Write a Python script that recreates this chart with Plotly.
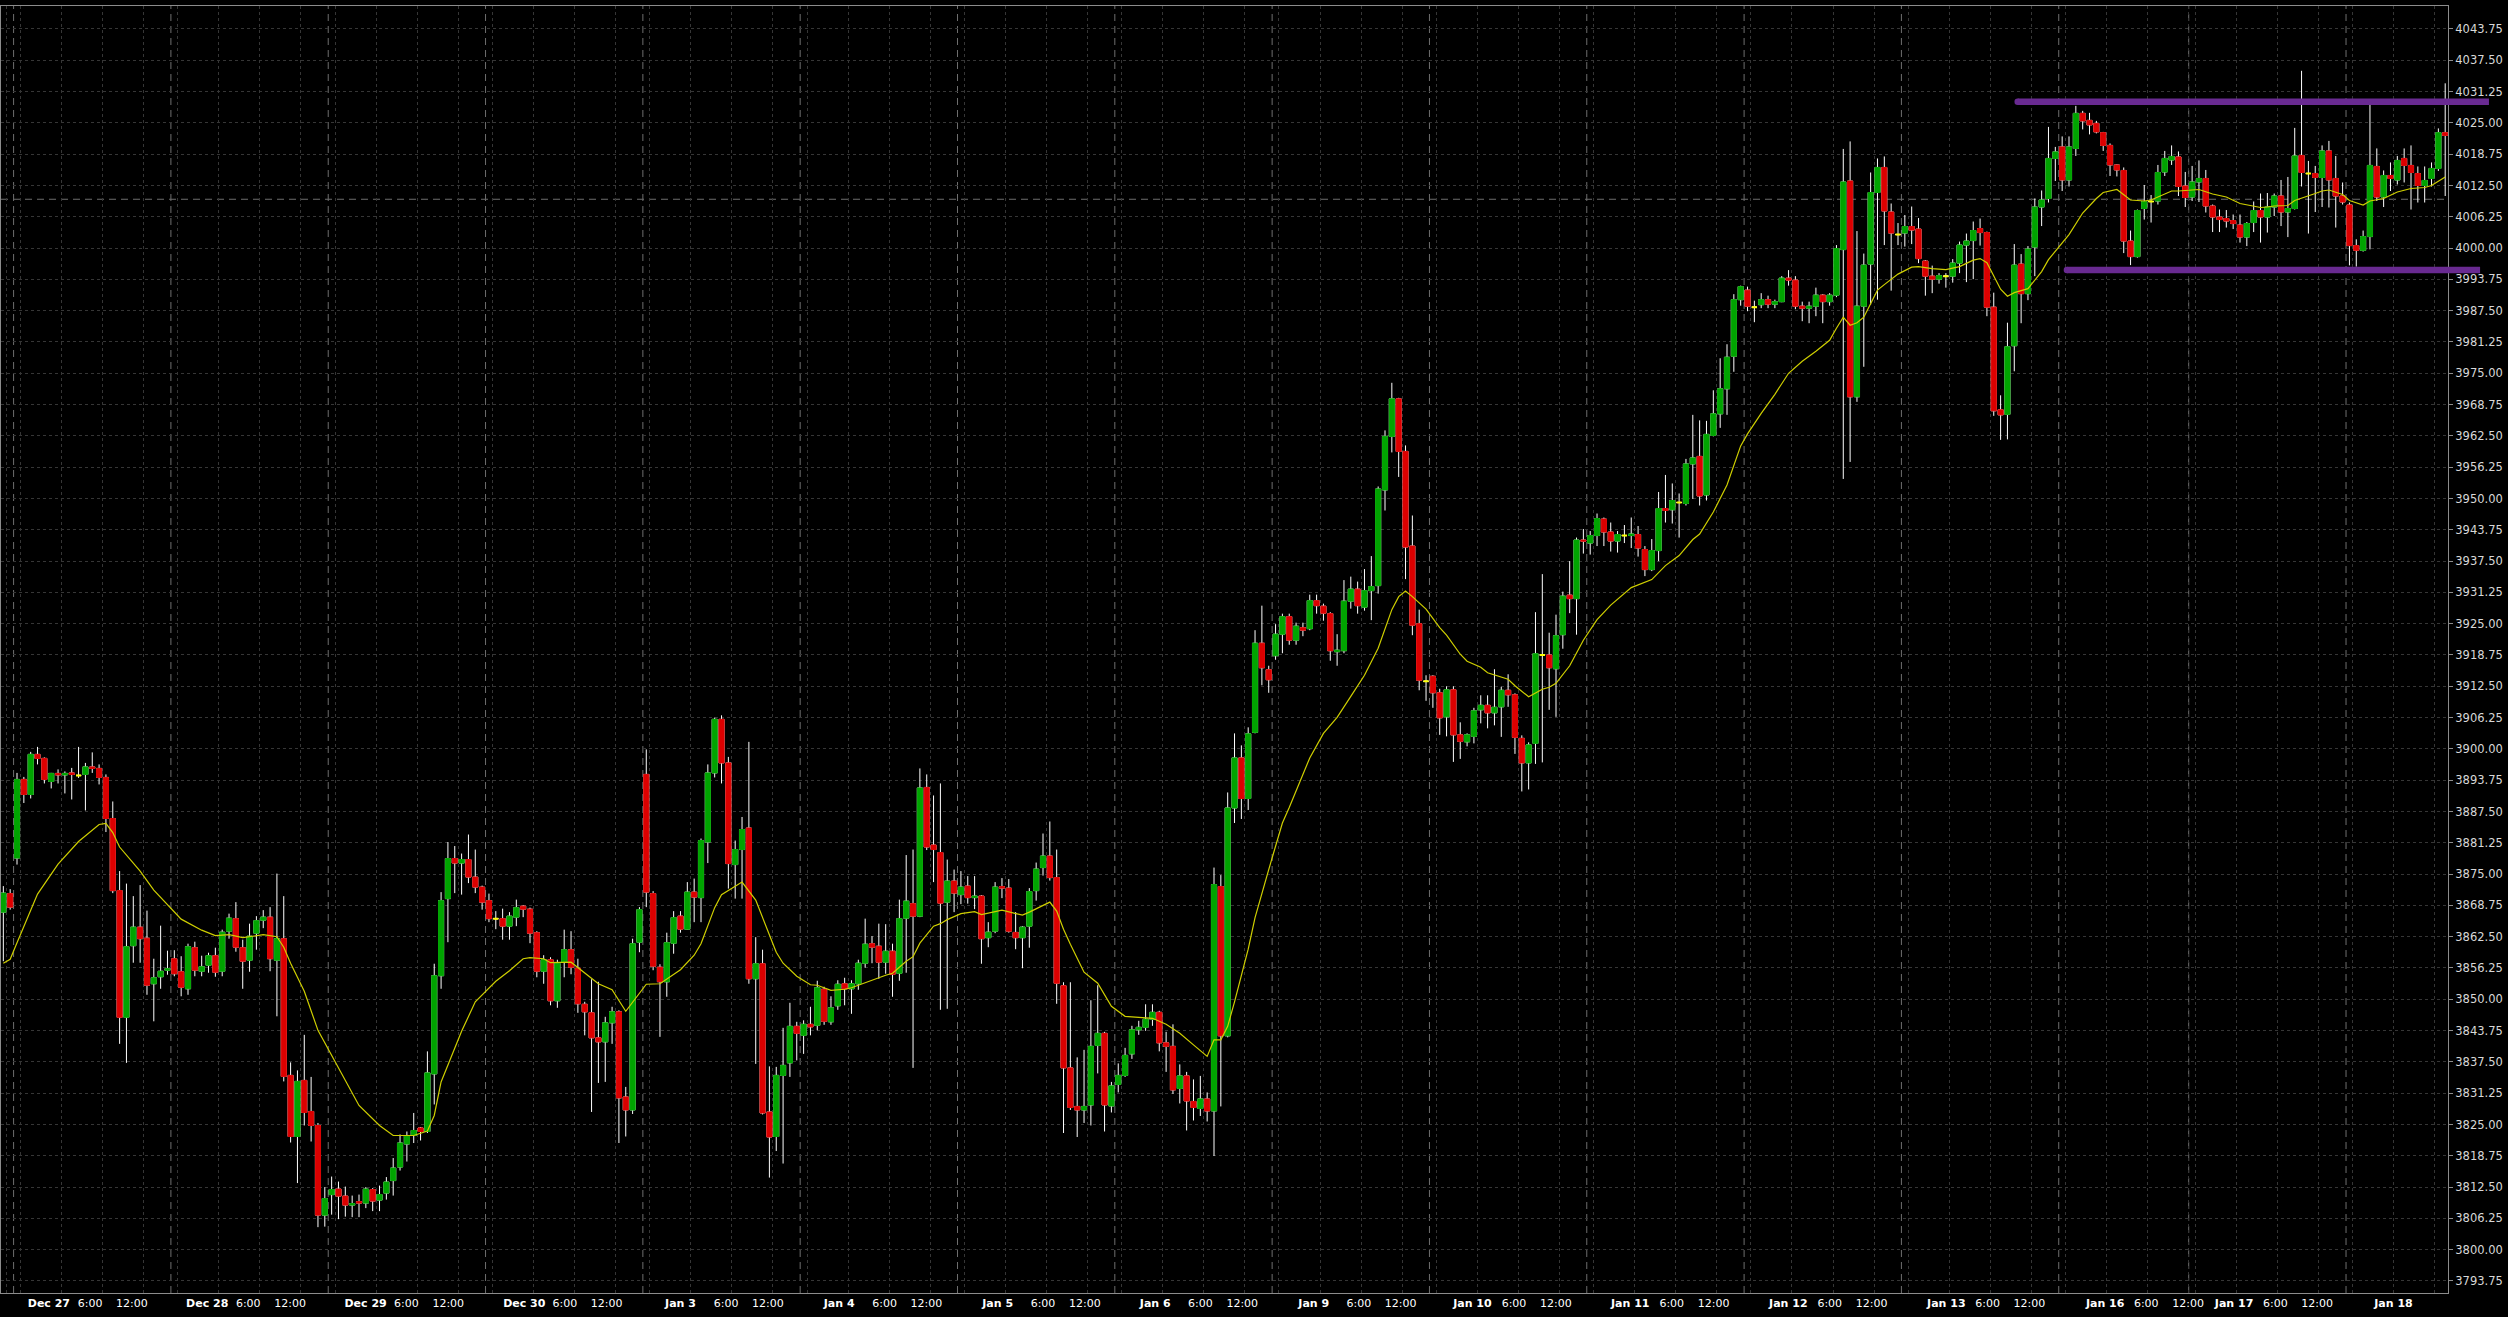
import plotly.graph_objects as go

# ---------------- data (hourly bars, index 0..357) ----------------
OPEN = [3867.4,3871.1,3878.2,3893.9,3890.9,3898.9,3898.1,3893.5,3895.1,3894.8,3895.2,3894.7,3894.9,3896.4,3896.1,3894.3,3886.1,3871.7,3846.4,3860.7,
3864.4,3862.2,3853.1,3854.5,3855.8,3858.1,3855.5,3852.1,3860.3,3855.6,3856.8,3858.7,3855.6,3863.6,3866.1,3860.3,3857.8,3863.2,3865.8,3866.4,
3857.8,3862.1,3834.8,3822.6,3833.8,3827.6,3824.8,3806.9,3811.0,3812.1,3810.7,3808.9,3809.6,3809.3,3812.0,3809.9,3811.3,3813.8,3816.5,3821.1,
3822.8,3824.3,3823.6,3835.1,3854.7,3870.1,3878.1,3877.2,3877.9,3874.4,3872.4,3869.7,3866.1,3866.1,3864.6,3866.4,3868.6,3868.0,3863.3,3855.6,
3857.9,3849.7,3857.4,3859.9,3856.2,3849.0,3847.3,3842.3,3841.5,3845.3,3847.5,3830.5,3827.9,3861.4,3894.9,3871.1,3856.4,3853.5,3861.2,3866.6,
3864.0,3871.4,3870.3,3881.4,3895.2,3905.9,3897.2,3876.9,3879.9,3884.2,3854.1,3857.1,3827.5,3822.6,3834.8,3837.3,3844.6,3842.8,3845.0,3844.8,
3852.0,3845.5,3848.7,3853.1,3852.1,3853.1,3857.2,3861.1,3860.6,3857.4,3859.6,3855.2,3866.2,3869.1,3866.6,3892.3,3880.8,3879.3,3869.4,3873.6,
3870.9,3872.6,3870.3,3870.6,3862.3,3863.6,3872.5,3872.2,3863.35,3862.3,3864.6,3871.7,3876.3,3878.6,3874.3,3852.7,3836.3,3828.6,3827.9,3828.9,
3840.8,3843.2,3828.7,3833.0,3834.8,3839.1,3843.9,3844.4,3846.0,3847.4,3841.3,3840.6,3832.2,3834.7,3829.6,3828.2,3830.1,3827.7,3872.5,3842.7,
3888.2,3898.2,3890.1,3903.3,3921.1,3915.8,3918.6,3922.9,3926.4,3921.7,3924.2,3924.0,3929.6,3928.5,3927.0,3919.4,3919.6,3929.5,3931.9,3928.3,
3931.6,3932.6,3951.7,3962.4,3969.9,3959.4,3940.5,3925.0,3913.5,3914.5,3911.2,3906.4,3911.8,3902.8,3901.4,3902.5,3907.8,3908.7,3907.2,3908.4,
3911.7,3910.8,3902.1,3897.2,3901.1,3918.75,3918.75,3916.0,3922.8,3930.7,3930.0,3941.7,3941.1,3942.6,3945.9,3943.3,3941.5,3942.6,3942.6,3942.8,
3939.8,3935.8,3939.6,3948.0,3947.75,3949.2,3949.0,3956.9,3958.4,3950.7,3962.6,3966.9,3971.9,3978.4,3989.7,3991.6,3988.2,3988.7,3989.7,3988.8,
3989.3,3994.0,3993.6,3988.4,3988.0,3988.4,3990.6,3989.3,3990.6,3999.7,4013.4,3970.3,3988.4,3996.8,4011.1,4016.1,4007.2,4002.7,4003.0,4004.3,
4003.8,3997.4,3994.4,3993.8,3994.4,3994.4,3997.0,4000.6,4001.5,4003.9,4003.1,3988.2,3967.7,3966.8,3980.5,3996.8,3990.9,4000.2,4008.2,4009.9,
4017.9,4020.2,4013.6,4019.9,4026.9,4025.5,4024.9,4023.05,4020.5,4016.6,4015.5,4001.4,3998.3,4007.9,4009.3,4009.4,4015.2,4017.6,4018.2,4012.4,
4010.2,4013.2,4013.9,4008.4,4006.2,4005.9,4005.5,4004.6,4002.2,4005.1,4007.5,4006.2,4008.2,4010.4,4007.2,4007.9,4018.5,4014.9,4014.9,4014.1,
4019.4,4013.9,4010.4,4008.6,4000.5,3999.55,4002.3,4016.3,4010.2,4014.5,4013.6,4017.9,4016.5,4014.9,4012.5,4013.9,4015.9,4023.05]

HIGH = [3872.6,3872.0,3895.2,3894.4,3899.4,3900.4,3898.3,3895.2,3895.9,3895.5,3896.2,3900.4,3897.2,3899.3,3896.9,3894.9,3889.5,3875.6,3873.1,3870.6,
3872.8,3867.7,3858.1,3864.7,3859.7,3859.8,3858.6,3861.1,3861.5,3858.7,3859.3,3860.3,3863.9,3867.1,3869.4,3861.9,3865.1,3866.6,3867.8,3868.4,
3875.1,3870.6,3837.4,3835.8,3842.9,3834.5,3825.3,3812.5,3814.6,3813.6,3812.6,3810.8,3811.0,3812.5,3812.3,3812.8,3814.5,3818.3,3823.0,3823.6,
3827.3,3824.5,3839.6,3857.1,3871.4,3881.4,3880.6,3879.1,3882.9,3879.9,3872.7,3871.1,3867.6,3868.1,3867.4,3869.9,3868.8,3868.3,3863.6,3858.8,
3858.4,3857.9,3863.9,3863.6,3858.1,3849.5,3854.0,3853.5,3846.5,3848.5,3847.8,3832.5,3862.1,3868.4,3899.9,3871.6,3857.0,3863.3,3867.6,3867.6,
3873.4,3874.1,3882.1,3896.9,3906.25,3906.7,3898.4,3881.7,3886.4,3901.4,3862.4,3859.9,3836.6,3836.5,3844.3,3849.3,3845.5,3845.8,3848.5,3853.7,
3852.5,3850.6,3853.8,3854.3,3853.8,3857.9,3866.1,3862.6,3865.1,3865.0,3861.1,3869.9,3878.8,3879.9,3896.1,3894.9,3890.7,3893.1,3877.9,3875.9,
3875.6,3874.6,3874.6,3870.8,3865.4,3873.4,3874.2,3874.0,3867.4,3864.6,3872.2,3877.3,3883.1,3885.5,3879.9,3853.4,3853.4,3838.4,3839.9,3849.8,
3852.8,3843.5,3833.5,3837.2,3840.3,3844.7,3845.7,3849.0,3849.0,3847.7,3843.5,3845.0,3837.0,3835.5,3834.0,3834.7,3831.4,3876.3,3874.8,3891.3,
3903.1,3900.7,3904.3,3923.7,3928.6,3916.6,3924.9,3927.0,3927.0,3925.2,3925.2,3930.8,3930.8,3929.0,3927.3,3922.9,3933.7,3934.4,3933.4,3935.9,
3938.5,3952.4,3963.6,3973.1,3970.1,3960.6,3946.6,3927.8,3914.7,3914.7,3912.0,3912.5,3912.5,3905.3,3903.1,3908.2,3910.7,3910.7,3915.9,3912.4,
3914.9,3911.1,3902.7,3901.3,3927.3,3934.9,3923.2,3926.8,3931.4,3937.5,3942.2,3943.9,3943.5,3947.0,3946.2,3945.2,3943.5,3944.7,3946.2,3944.5,
3940.5,3941.9,3951.3,3954.7,3953.0,3951.0,3957.9,3966.7,3965.6,3965.5,3971.6,3978.0,3980.8,3990.8,3992.5,3992.3,3989.5,3991.0,3990.5,3989.7,
3994.4,3995.6,3994.4,3989.3,3989.3,3992.1,3990.8,3991.0,4000.6,4019.8,4021.3,4003.4,3998.9,4015.1,4017.9,4018.3,4008.9,4005.0,4006.6,4008.3,
4006.0,3997.6,3996.5,3995.0,3995.0,3997.8,4001.3,4002.9,4005.3,4005.9,4003.3,3991.1,3970.6,3985.1,4000.8,3998.8,4000.4,4009.9,4011.5,4024.2,
4020.2,4022.3,4022.3,4028.4,4027.4,4027.0,4025.4,4023.2,4020.9,4016.7,4016.1,4003.5,4007.7,4012.6,4010.6,4016.6,4019.4,4020.5,4019.3,4015.2,
4016.4,4017.5,4015.6,4008.7,4007.7,4007.6,4006.7,4006.7,4005.2,4009.3,4010.9,4011.0,4010.9,4013.6,4014.2,4024.0,4035.4,4017.4,4016.4,4020.5,
4021.4,4018.4,4013.1,4009.1,4001.75,4003.5,4028.7,4019.9,4015.5,4017.1,4018.4,4019.9,4020.5,4016.3,4016.3,4017.1,4023.9,4032.9]

LOW = [3857.6,3867.9,3876.9,3889.2,3890.1,3896.9,3893.1,3892.1,3893.1,3891.1,3889.9,3894.2,3887.7,3895.2,3892.9,3883.4,3871.2,3841.1,3837.3,3857.3,
3857.3,3850.9,3845.6,3852.1,3854.9,3854.6,3850.6,3850.9,3854.6,3854.6,3855.3,3854.5,3854.6,3862.1,3859.5,3852.1,3855.5,3859.9,3864.2,3855.6,
3846.6,3833.6,3821.4,3813.3,3824.8,3821.6,3804.5,3804.6,3807.0,3806.1,3806.6,3806.5,3806.5,3808.3,3807.7,3807.7,3810.0,3810.8,3815.8,3817.6,
3821.3,3821.8,3823.3,3829.0,3852.1,3861.4,3871.2,3870.9,3873.2,3871.2,3867.9,3865.4,3864.0,3861.9,3861.9,3864.6,3866.4,3861.2,3854.4,3853.1,
3848.8,3848.3,3854.4,3855.0,3847.3,3842.8,3827.5,3833.3,3833.5,3841.1,3821.3,3822.6,3827.1,3859.4,3868.4,3855.8,3842.5,3850.5,3859.1,3863.3,
3863.9,3865.4,3865.4,3877.2,3894.3,3893.1,3872.1,3870.1,3870.1,3853.1,3837.1,3827.0,3814.4,3819.7,3817.2,3834.5,3837.8,3839.1,3842.8,3843.8,
3844.9,3844.9,3847.9,3848.8,3847.1,3851.9,3856.3,3857.2,3854.1,3855.1,3850.5,3853.7,3855.3,3836.3,3866.4,3879.8,3873.4,3847.9,3848.1,3867.4,
3869.0,3869.1,3868.0,3857.1,3860.4,3863.2,3870.2,3863.3,3860.0,3856.2,3860.3,3869.7,3874.7,3873.7,3849.1,3823.3,3827.9,3822.5,3825.3,3824.8,
3835.2,3823.6,3827.4,3831.4,3834.5,3838.1,3842.9,3843.7,3844.7,3839.6,3835.5,3831.1,3829.2,3823.8,3825.8,3826.7,3825.6,3818.7,3828.6,3842.4,
3885.2,3886.0,3887.8,3903.1,3912.7,3911.2,3917.8,3919.1,3920.8,3920.8,3922.5,3923.7,3927.0,3925.6,3917.6,3916.6,3919.1,3928.0,3927.0,3927.6,
3925.7,3931.0,3947.6,3959.2,3954.3,3933.9,3922.7,3911.7,3909.6,3908.2,3902.8,3902.5,3897.4,3898.0,3900.5,3901.1,3905.1,3904.1,3904.7,3902.4,
3908.4,3899.0,3891.5,3891.9,3897.0,3897.3,3907.8,3906.4,3920.0,3927.1,3922.8,3939.0,3938.8,3940.5,3940.5,3939.4,3939.2,3941.1,3940.1,3938.4,
3934.5,3935.5,3937.5,3945.2,3945.0,3942.2,3948.6,3949.9,3948.6,3949.6,3962.4,3964.1,3966.7,3975.3,3988.5,3987.4,3985.2,3988.0,3988.0,3988.0,
3989.2,3992.5,3987.8,3985.4,3985.0,3986.4,3985.0,3988.5,3990.2,3953.9,3957.3,3969.3,3976.3,3988.7,3989.7,4000.6,3991.5,4000.6,4000.3,4000.8,
3997.0,3990.5,3991.0,3992.9,3992.1,3993.1,3995.0,3993.2,3993.8,4000.5,3986.4,3966.5,3961.7,3961.8,3975.4,3985.0,3989.6,3994.4,4004.4,4009.1,
4013.4,4011.4,4012.3,4018.4,4023.7,4022.7,4022.9,4019.4,4014.4,4014.3,3999.0,3996.6,3998.1,4005.7,4005.1,4008.7,4014.4,4016.6,4010.4,4008.2,
4009.4,4009.2,4007.1,4003.2,4003.2,4004.1,4003.8,4001.1,4000.4,4003.2,4001.1,4003.1,4006.4,4004.4,4002.2,4007.7,4012.3,4002.9,4007.2,4008.2,
4008.1,4004.1,4008.7,3996.55,3996.3,3999.3,3999.75,4009.4,4008.2,4011.4,4012.7,4013.1,4007.7,4009.1,4009.1,4012.3,4015.4,4010.4]

CLOSE = [3871.2,3868.4,3893.9,3890.9,3898.9,3898.1,3893.9,3895.1,3894.8,3895.1,3894.9,3894.7,3896.4,3896.1,3894.3,3886.1,3871.7,3846.4,3860.5,3864.4,
3862.1,3852.8,3854.3,3855.6,3856.1,3855.1,3852.4,3860.5,3855.8,3856.5,3858.7,3855.4,3863.4,3866.2,3860.4,3857.6,3862.6,3865.7,3866.4,3858.1,
3862.1,3834.6,3822.6,3833.6,3827.4,3824.8,3806.9,3810.2,3812.0,3810.7,3808.9,3809.2,3809.3,3812.1,3809.7,3811.0,3813.5,3816.3,3821.3,3822.8,
3823.8,3823.6,3835.3,3854.7,3869.7,3878.1,3877.2,3877.9,3874.4,3872.4,3869.4,3866.1,3866.1,3864.6,3866.6,3868.3,3868.0,3863.2,3855.6,3857.9,
3849.7,3857.2,3859.9,3856.4,3849.1,3847.5,3842.3,3841.5,3845.3,3847.5,3830.3,3827.9,3861.1,3867.9,3871.4,3856.6,3853.5,3861.3,3866.3,3864.0,
3871.4,3870.4,3881.7,3895.2,3905.9,3897.2,3877.1,3879.9,3883.9,3854.1,3857.1,3827.3,3822.5,3834.8,3836.8,3844.6,3843.2,3845.0,3844.5,3852.3,
3845.6,3848.3,3853.0,3852.1,3853.1,3857.2,3861.0,3860.4,3857.4,3859.6,3855.0,3866.1,3869.6,3866.6,3892.2,3880.4,3879.9,3869.2,3873.6,3871.2,
3872.4,3870.3,3870.6,3862.1,3863.4,3872.4,3872.2,3863.6,3862.3,3864.4,3871.5,3876.0,3878.6,3874.3,3853.2,3836.3,3828.4,3827.9,3828.6,3840.6,
3843.2,3828.9,3832.7,3834.8,3838.8,3843.9,3844.4,3846.0,3847.4,3841.3,3840.6,3831.9,3834.7,3829.7,3828.4,3830.1,3827.7,3872.9,3842.7,3888.2,
3898.2,3890.1,3903.0,3921.1,3916.2,3913.8,3922.9,3926.4,3921.7,3924.5,3923.7,3929.6,3928.6,3927.1,3919.6,3919.7,3929.5,3931.9,3928.6,3931.6,
3932.4,3951.9,3962.4,3969.9,3959.4,3940.3,3924.7,3913.7,3913.5,3911.2,3906.2,3911.8,3902.8,3901.5,3902.8,3907.6,3908.7,3907.2,3908.3,3911.7,
3910.8,3902.3,3897.2,3900.8,3919.0,3918.75,3916.2,3922.6,3930.5,3930.0,3941.7,3941.5,3942.6,3946.0,3943.3,3941.5,3942.8,3942.6,3942.9,3940.1,
3935.8,3939.6,3948.0,3947.6,3949.6,3949.2,3956.9,3958.1,3950.5,3962.8,3966.9,3971.9,3978.2,3989.7,3992.3,3988.4,3988.2,3989.7,3988.8,3989.3,
3994.0,3993.6,3988.4,3988.0,3988.4,3990.6,3989.3,3990.6,3999.9,4013.2,3970.3,3988.4,3996.6,4011.1,4016.1,4007.4,4003.0,4002.7,4004.3,4003.6,
3997.9,3994.4,3993.8,3994.5,3994.4,3997.0,4000.6,4001.4,4003.5,4003.1,3988.2,3967.5,3966.7,3980.3,3996.6,3990.9,3999.8,4008.2,4009.6,4017.9,
4019.2,4013.6,4020.2,4026.9,4025.4,4024.6,4023.2,4020.5,4016.6,4015.6,4001.4,3998.3,4007.5,4009.3,4009.3,4015.1,4017.9,4018.3,4012.3,4010.1,
4013.2,4013.9,4008.4,4006.2,4005.7,4005.4,4004.9,4002.2,4004.9,4007.5,4006.2,4008.2,4010.4,4007.2,4007.9,4018.4,4015.1,4014.9,4014.1,4019.4,
4013.6,4010.4,4009.2,4000.5,3999.55,4002.3,4016.5,4010.2,4014.5,4013.9,4017.5,4016.5,4015.1,4012.5,4013.5,4015.9,4023.05,4022.5]

# moving average: (bar index, value)
MA_X = [0,1,2,5,8,11,14,15,16,17,20,22,26,29,31,33,35,38,40,41,42,44,46,48,52,55,57,60,62,63,64,67,69,72,74,76,77,79,80,83,85,87,89,91,
94,96,99,101,102,104,105,106,108,110,112,113,114,116,118,119,121,123,124,126,128,129,130,132,133,134,136,137,138,140,142,143,146,149,150,
153,154,155,156,157,158,160,162,164,166,168,170,172,174,176,177,178,179,180,182,183,185,187,188,191,193,195,197,199,201,203,204,205,206,
208,210,211,213,214,216,217,220,221,223,225,226,227,229,231,233,235,238,241,243,245,247,248,250,252,254,255,257,259,261,263,265,267,268,
269,270,271,272,273,274,275,277,279,280,282,284,286,288,289,290,292,293,294,296,298,299,302,304,306,307,309,310,311,313,314,317,318,320,
321,323,325,327,330,331,332,334,335,338,339,340,342,343,345,346,348,350,352,354,355,357]
MA_Y = [3857.2,3858.0,3861.3,3871.0,3877.0,3881.5,3884.9,3885.1,3883.3,3880.4,3875.6,3871.8,3866.0,3863.8,3862.7,3862.9,3862.3,3862.9,3862.5,
3860.4,3857.2,3851.6,3843.8,3838.8,3828.8,3824.8,3822.8,3822.8,3823.7,3826.8,3833.5,3843.6,3849.5,3853.6,3855.7,3858.1,3858.3,3858.1,3857.3,
3857.4,3855.3,3853.1,3851.9,3847.6,3853.0,3853.1,3855.9,3858.8,3861.1,3868.3,3870.9,3871.7,3873.4,3869.8,3862.7,3859.4,3857.2,3854.6,3852.9,
3852.8,3851.8,3852.0,3852.3,3853.3,3854.4,3854.8,3855.2,3857.6,3858.5,3861.2,3864.6,3865.1,3865.9,3867.1,3867.5,3866.9,3867.8,3866.8,3867.4,
3869.4,3867.6,3864.0,3861.0,3858.2,3855.4,3853.2,3848.6,3846.6,3846.4,3846.2,3845.0,3843.2,3840.9,3838.6,3841.9,3841.9,3844.6,3849.5,3860.0,
3866.3,3875.9,3885.2,3888.3,3898.2,3903.1,3906.3,3910.5,3914.7,3920.1,3927.8,3930.4,3931.5,3930.4,3927.9,3924.2,3922.7,3918.9,3917.5,3916.3,
3915.2,3913.9,3912.6,3910.4,3911.9,3912.3,3913.1,3916.6,3921.7,3925.8,3928.7,3932.2,3933.8,3936.6,3938.6,3941.8,3942.9,3947.3,3952.7,3960.5,
3962.9,3967.0,3970.8,3975.0,3977.4,3979.4,3981.6,3984.0,3986.2,3984.6,3985.1,3986.2,3988.8,3991.6,3992.7,3994.8,3996.2,3996.3,3995.9,3995.7,
3996.3,3997.6,3997.9,3997.1,3991.8,3990.4,3991.1,3991.9,3995.3,3997.7,4002.7,4007.0,4009.9,4011.1,4011.7,4010.7,4009.6,4009.4,4009.6,4011.4,
4011.4,4011.6,4011.7,4010.8,4010.2,4008.9,4008.1,4008.2,4008.4,4008.5,4009.5,4010.9,4011.4,4011.6,4010.7,4009.5,4008.6,4009.4,4009.9,4011.2,
4011.9,4012.1,4012.5,4014.2]

# sessions: label and first bar index
DAY_NAMES = ["Dec 27","Dec 28","Dec 29","Dec 30","Jan 3","Jan 4","Jan 5","Jan 6","Jan 9","Jan 10",
             "Jan 11","Jan 12","Jan 13","Jan 16","Jan 17","Jan 18"]
DAY_START = [2,25,48,71,94,117,140,163,186,209,232,255,278,301,320,343]
TIME_LABELS = ["6:00","12:00"]

# horizontal range lines (price, first bar, last bar) and reference price line
RANGE_LEVELS = [4029.2, 3995.6]
RANGE_FROM = [294.5, 301.7]
RANGE_TO = [363.4, 362.1]
REF_PRICE = 4009.75

Y_TICKS = [3793.75 + 6.25 * k for k in range(41)]

# ---------------- styling / layout constants ----------------
N = len(CLOSE)
XR = [-0.34, 357.41]
YR = [3791.35, 4048.34]
GREEN, RED, DOJI, MA_COL, PURPLE = "#00a400", "#dc0000", "#ffff00", "#cfcf00", "#692a91"
FONT = "DejaVu Sans"
OFF_DAY, OFF_T1, OFF_T2 = 1.5, 8.8, 14.4   # label offsets from session start (bars)
LABEL_SHIFT = [0, 0.15, 0.3, 0.5, 1.17, 1.37, 1.55, 1.58, 1.75, 1.39, 1.46, 1.58, 1.68, 1.9, 1.75, 2.05]

idx = list(range(N))
doji = [i for i in idx if OPEN[i] == CLOSE[i]]
body = [i for i in idx if OPEN[i] != CLOSE[i]]

fig = go.Figure()

fig.add_trace(go.Candlestick(
    x=idx, open=OPEN, high=HIGH, low=LOW, close=CLOSE,
    increasing=dict(line=dict(color="#ffffff", width=1), fillcolor="#ffffff"),
    decreasing=dict(line=dict(color="#ffffff", width=1), fillcolor="#ffffff"),
    whiskerwidth=0, hoverinfo="skip", showlegend=False))

fig.add_trace(go.Candlestick(
    x=body,
    open=[OPEN[i] for i in body], close=[CLOSE[i] for i in body],
    high=[max(OPEN[i], CLOSE[i]) for i in body], low=[min(OPEN[i], CLOSE[i]) for i in body],
    increasing=dict(line=dict(color=GREEN, width=1), fillcolor=GREEN),
    decreasing=dict(line=dict(color=RED, width=1), fillcolor=RED),
    whiskerwidth=0, hoverinfo="skip", showlegend=False))

fig.add_trace(go.Candlestick(
    x=doji,
    open=[OPEN[i] for i in doji], close=[CLOSE[i] for i in doji],
    high=[OPEN[i] for i in doji], low=[OPEN[i] for i in doji],
    increasing=dict(line=dict(color=DOJI, width=2), fillcolor=DOJI),
    decreasing=dict(line=dict(color=DOJI, width=2), fillcolor=DOJI),
    whiskerwidth=0, hoverinfo="skip", showlegend=False))

fig.add_trace(go.Scatter(x=MA_X, y=MA_Y, mode="lines",
                         line=dict(color=MA_COL, width=1.2), hoverinfo="skip", showlegend=False))

# rounded end caps of the range lines
cap_x, cap_y = [], []
for lvl, a, b in zip(RANGE_LEVELS, RANGE_FROM, RANGE_TO):
    cap_x += [a, b]
    cap_y += [lvl, lvl]
fig.add_trace(go.Scatter(x=cap_x, y=cap_y, mode="markers", cliponaxis=False,
                         marker=dict(color=PURPLE, size=6.5, line=dict(width=0)),
                         hoverinfo="skip", showlegend=False))

tickvals, ticktext = [], []
for name, s, sh in zip(DAY_NAMES, DAY_START, LABEL_SHIFT):
    tickvals.append(s + OFF_DAY + sh)
    ticktext.append("<b>" + name + "</b>")
    if name != DAY_NAMES[-1]:
        tickvals.append(s + OFF_T1 + 0.85 * sh)
        ticktext.append(TIME_LABELS[0])
        tickvals.append(s + OFF_T2 + 0.85 * sh)
        ticktext.append(TIME_LABELS[1])

ends = DAY_START[1:] + [N + 20]
grid_x = [0.5]
for s, e in zip(DAY_START, ends):
    g = s + 0.5
    while g < e:
        grid_x.append(g)
        g += 6

shapes = []
for s in DAY_START:
    shapes.append(dict(type="line", xref="x", yref="paper", x0=s - 0.5, x1=s - 0.5, y0=0, y1=1,
                       line=dict(color="#6e6e6e", width=1, dash="7px,5px"), layer="below"))
shapes.append(dict(type="line", xref="paper", yref="y", x0=0, x1=1, y0=REF_PRICE, y1=REF_PRICE,
                   line=dict(color="#6e6e6e", width=1, dash="7px,5px"), layer="below"))
span = XR[1] - XR[0]
for lvl, a, b in zip(RANGE_LEVELS, RANGE_FROM, RANGE_TO):
    shapes.append(dict(type="line", xref="paper", yref="y",
                       x0=(a - XR[0]) / span, x1=(b - XR[0]) / span, y0=lvl, y1=lvl,
                       line=dict(color=PURPLE, width=6.5), layer="above"))

fig.update_layout(
    width=2508, height=1317,
    margin=dict(l=1, r=60, t=6, b=24, pad=0, autoexpand=False),
    paper_bgcolor="#000000", plot_bgcolor="#000000",
    showlegend=False, boxgap=0.25, boxgroupgap=0,
    font=dict(family=FONT, color="#ffffff", size=11),
    shapes=shapes,
    xaxis=dict(range=XR, rangeslider=dict(visible=False), tickmode="array",
               tickvals=tickvals, ticktext=ticktext, ticks="", showgrid=False,
               tickangle=0, automargin=False,
               ticklabelposition="outside right",
               tickfont=dict(family=FONT, size=11, color="#ffffff"),
               showline=True, linecolor="#8c8c8c", linewidth=1, mirror=True, zeroline=False,
               minor=dict(tickmode="array", tickvals=grid_x, showgrid=True,
                          gridcolor="#363636", griddash="dot", gridwidth=1, ticks="")),
    yaxis=dict(range=YR, side="right", tickmode="array", tickvals=Y_TICKS, automargin=False,
               ticktext=["%.2f" % v for v in Y_TICKS], ticks="outside", ticklen=4,
               tickcolor="#8c8c8c", showgrid=True, gridcolor="#363636", griddash="dot",
               tickfont=dict(family=FONT, size=11.5, color="#d8d8d8"),
               showline=True, linecolor="#8c8c8c", linewidth=1, mirror=True, zeroline=False),
)

fig.write_html("out.html", config={"displayModeBar": False},
               post_script="document.body.style.margin='0';document.body.style.overflow='hidden';")
